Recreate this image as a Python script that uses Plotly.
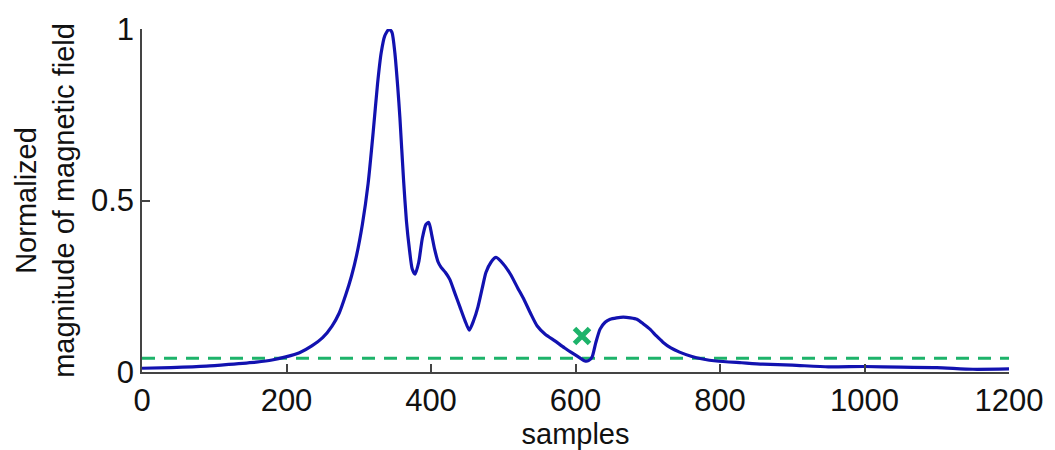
import plotly.graph_objects as go

samples = [0, 40, 89, 120, 158, 180, 199, 218, 235, 250, 263, 273, 282, 290, 297, 305, 313, 320,
           326, 331, 336, 342, 346, 350, 354, 357, 362, 366, 370, 374, 378, 383, 388, 393, 397,
           401, 405, 410, 414, 420, 426, 433, 440, 447, 453, 459, 465, 471, 476, 483, 490, 500,
           510, 520, 529, 538, 547, 558, 572, 585, 598, 607, 613, 618, 623, 628, 634, 641, 648,
           657, 666, 676, 685, 694, 703, 712, 721, 732, 744, 760, 776, 795, 830, 859, 900, 950,
           1000, 1050, 1100, 1150, 1200]
magnitude = [0.011, 0.013, 0.017, 0.022, 0.029, 0.035, 0.044, 0.056, 0.076, 0.10, 0.134, 0.172,
             0.225, 0.28, 0.34, 0.43, 0.55, 0.70, 0.84, 0.93, 0.98, 1.0, 0.99, 0.93, 0.83, 0.74,
             0.56, 0.44, 0.36, 0.30, 0.285, 0.32, 0.39, 0.43, 0.436, 0.40, 0.358, 0.32, 0.305,
             0.29, 0.27, 0.23, 0.19, 0.15, 0.122, 0.15, 0.19, 0.245, 0.29, 0.32, 0.334, 0.315,
             0.285, 0.245, 0.21, 0.17, 0.134, 0.11, 0.09, 0.07, 0.052, 0.04, 0.032, 0.033, 0.044,
             0.085, 0.125, 0.145, 0.154, 0.158, 0.16, 0.158, 0.154, 0.14, 0.125, 0.105, 0.087,
             0.07, 0.058, 0.046, 0.038, 0.032, 0.027, 0.023, 0.02, 0.015, 0.016, 0.014, 0.013,
             0.008, 0.009]
threshold_x = [0, 1200]
threshold_y = [0.04, 0.04]
marker_x = [609]
marker_y = [0.105]

x_ticks = [0, 200, 400, 600, 800, 1000, 1200]
y_ticks = [0, 0.5, 1]
y_tick_text = ["0", "0.5", "1"]

fig = go.Figure()
fig.add_trace(go.Scatter(x=threshold_x, y=threshold_y, mode="lines",
                         line=dict(color="#1db36a", width=3, dash="13px,9px"), hoverinfo="skip"))
fig.add_trace(go.Scatter(x=samples, y=magnitude, mode="lines",
                         line=dict(color="#1212b0", width=3.2, shape="spline", smoothing=0.6)))
fig.add_trace(go.Scatter(x=marker_x, y=marker_y, mode="markers",
                         marker=dict(symbol="x-thin", size=15, color="#1db36a",
                                     line=dict(color="#1db36a", width=5))))

font = "Liberation Sans, Arial, sans-serif"
fig.update_layout(
    width=1055, height=450,
    margin=dict(l=142, r=40, t=29, b=77),
    paper_bgcolor="white", plot_bgcolor="white",
    showlegend=False,
    font=dict(family=font, color="#111"),
)
fig.update_xaxes(range=[0, 1200], tickvals=x_ticks, ticks="inside", ticklen=8, tickwidth=1.5,
                 tickcolor="#444", showline=True, linecolor="#444", linewidth=1.5,
                 showgrid=False, zeroline=False, tickfont=dict(size=31, family=font, color="#111"),
                 title=dict(text="samples", font=dict(size=29, family=font, color="#111"), standoff=0))
fig.update_yaxes(range=[0, 1], tickvals=y_ticks, ticktext=y_tick_text, ticks="inside", ticklen=8,
                 tickwidth=1.5, tickcolor="#444", showline=True, linecolor="#444", linewidth=1.5,
                 showgrid=False, zeroline=False, tickfont=dict(size=31, family=font, color="#111"),
                 title=dict(text="Normalized<br>magnitude of magnetic field",
                            font=dict(size=29, family=font, color="#111"), standoff=8))

fig.write_html("out.html")
